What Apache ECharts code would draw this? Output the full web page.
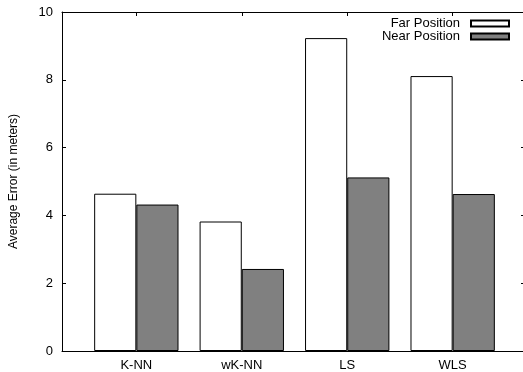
<!DOCTYPE html>
<html>
<head>
<meta charset="utf-8">
<script src="https://cdn.jsdelivr.net/npm/echarts@6/dist/echarts.min.js"></script>
<style>
html,body{margin:0;padding:0;background:#fff;}
#c{width:523px;height:372px;}
</style>
</head>
<body>
<div id="c"></div>
<script>
const categories = ['K-NN', 'wK-NN', 'LS', 'WLS'];
const farValues = [4.64, 3.82, 9.23, 8.11];
const nearValues = [4.32, 2.42, 5.12, 4.63];
const seriesNames = ['Far Position', 'Near Position'];
const yTicks = [0, 2, 4, 6, 8, 10];

const FONT = "'Liberation Sans', Arial, Helvetica, sans-serif";
const catIdx = categories.map((c, i) => i);
const chart = echarts.init(document.getElementById('c'), null, {renderer: 'canvas'});
const axisLine = {show: true, onZero: false, lineStyle: {color: '#000', width: 1}};
const X_MIN = -0.705, X_MAX = 3.686;

chart.setOption({
  animation: false,
  backgroundColor: '#fff',
  textStyle: {fontFamily: FONT},
  grid: {left: 62, right: -2, top: 12, bottom: 21, containLabel: false, outerBoundsMode: 'none'},
  legend: {
    data: seriesNames,
    orient: 'vertical',
    right: 13,
    top: 17,
    padding: 0,
    align: 'right',
    icon: 'rect',
    itemWidth: 38,
    itemHeight: 6,
    itemGap: 0,
    textStyle: {fontFamily: FONT, fontSize: 13, color: '#000', lineHeight: 13, padding: [0, 6, 0, 0]},
    selectedMode: false
  },
  xAxis: [
    {
      type: 'value', min: X_MIN, max: X_MAX, position: 'bottom',
      axisLine: axisLine, splitLine: {show: false},
      axisTick: {show: false},
      axisLabel: {
        customValues: catIdx,
        formatter: v => categories[Math.round(v)],
        color: '#000', fontSize: 13, fontFamily: FONT, margin: 8
      }
    },
    {
      type: 'value', min: X_MIN, max: X_MAX, position: 'top',
      axisLine: axisLine, splitLine: {show: false},
      axisTick: {show: true, inside: true, length: 4, customValues: catIdx, lineStyle: {color: '#000'}},
      axisLabel: {show: false}
    }
  ],
  yAxis: [
    {
      type: 'value', min: yTicks[0], max: yTicks[yTicks.length - 1], interval: 2, position: 'left',
      axisLine: axisLine, splitLine: {show: false},
      axisTick: {show: true, inside: true, length: 4, lineStyle: {color: '#000'}},
      axisLabel: {color: '#000', fontSize: 13, fontFamily: FONT, margin: 9},
      name: 'Average Error (in meters)',
      nameLocation: 'middle',
      nameGap: 42,
      nameTextStyle: {color: '#000', fontSize: 12, fontFamily: FONT}
    },
    {
      type: 'value', min: yTicks[0], max: yTicks[yTicks.length - 1], interval: 2, position: 'right',
      axisLine: axisLine, splitLine: {show: false},
      axisTick: {show: true, inside: true, length: 4, lineStyle: {color: '#000'}},
      axisLabel: {show: false}
    }
  ],
  series: [
    {
      name: seriesNames[0], type: 'bar', xAxisIndex: 0, yAxisIndex: 0,
      data: farValues.map((v, i) => [i, v]),
      barWidth: '40%', barGap: '0%',
      itemStyle: {color: '#ffffff', borderColor: '#000', borderWidth: 1}
    },
    {
      name: seriesNames[1], type: 'bar', xAxisIndex: 0, yAxisIndex: 0,
      data: nearValues.map((v, i) => [i, v]),
      barWidth: '40%', barGap: '0%',
      itemStyle: {color: '#808080', borderColor: '#000', borderWidth: 1}
    }
  ]
});
</script>
</body>
</html>
